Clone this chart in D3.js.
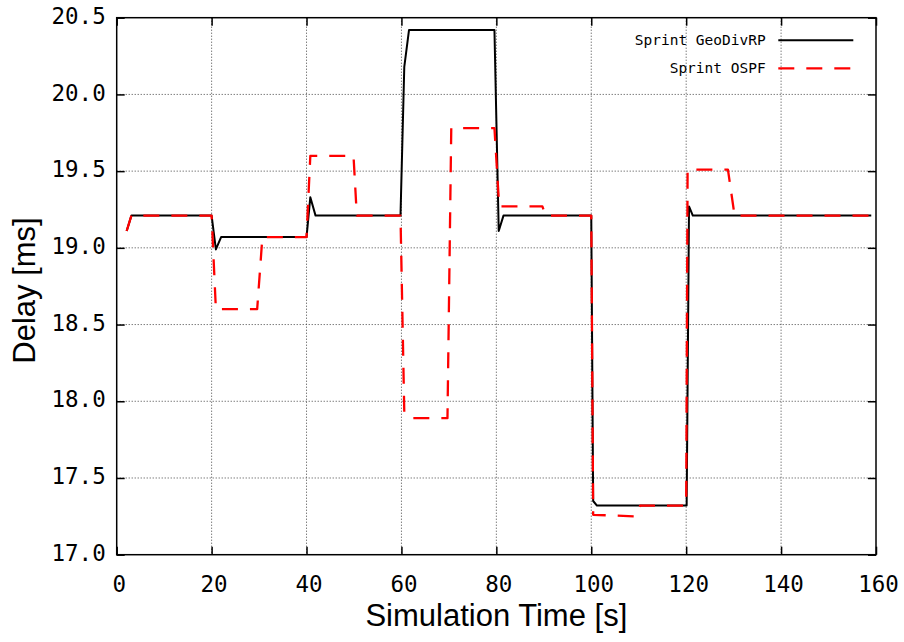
<!DOCTYPE html>
<html>
<head>
<meta charset="utf-8">
<script src="https://cdn.jsdelivr.net/npm/d3@7/dist/d3.min.js"></script>
<style>
  body { margin: 0; background: #fff; }
  svg { display: block; }
</style>
</head>
<body>
<div id="chart"></div>
<script>
var xTicks = [0, 20, 40, 60, 80, 100, 120, 140, 160];
var yTicks = [17.0, 17.5, 18.0, 18.5, 19.0, 19.5, 20.0, 20.5];

var geoTime  = [2.1, 3.1, 20.0, 20.9, 22.0, 40.0, 40.8, 41.9, 59.8, 60.6, 61.6, 79.6, 80.5, 81.5, 100.0, 100.4, 101.2, 120.1, 120.6, 121.4, 159.0];
var geoDelay = [19.11, 19.21, 19.21, 18.99, 19.07, 19.07, 19.33, 19.21, 19.21, 20.18, 20.42, 20.42, 19.11, 19.21, 19.21, 17.35, 17.32, 17.32, 19.27, 19.21, 19.21];

var ospfTime  = [2.1, 3.1, 20.0, 20.9, 29.6, 30.7, 40.0, 40.8, 49.9, 50.6, 59.8, 60.6, 61.8, 69.7, 70.5, 79.6, 80.6, 89.7, 90.4, 100.0, 100.4, 109.2, 110.3, 120.0, 120.3, 128.8, 130.2, 159.0];
var ospfDelay = [19.11, 19.21, 19.21, 18.60, 18.60, 19.07, 19.07, 19.60, 19.60, 19.21, 19.21, 17.93, 17.89, 17.89, 19.78, 19.78, 19.27, 19.27, 19.21, 19.21, 17.26, 17.25, 17.32, 17.32, 19.51, 19.51, 19.21, 19.21];

var seriesNames = ['Sprint GeoDivRP', 'Sprint OSPF'];

var width = 904, height = 642;
var plotLeft = 116.7, plotTop = 17.7, plotRight = 876, plotBottom = 554.7;

var svg = d3.select('#chart').append('svg')
    .attr('width', width)
    .attr('height', height);

var x = d3.scaleLinear().domain([0, 160]).range([plotLeft, plotRight]);
var y = d3.scaleLinear().domain([17, 20.5]).range([plotBottom, plotTop]);

// grid
var grid = svg.append('g');
grid.selectAll('line.gx')
    .data(xTicks.slice(1, -1))
    .enter().append('line')
    .attr('x1', function(d) { return x(d); })
    .attr('x2', function(d) { return x(d); })
    .attr('y1', plotTop).attr('y2', plotBottom)
    .attr('stroke', '#444').attr('stroke-width', 1)
    .attr('stroke-dasharray', '1,2');
grid.selectAll('line.gy')
    .data(yTicks.slice(1, -1))
    .enter().append('line')
    .attr('y1', function(d) { return y(d); })
    .attr('y2', function(d) { return y(d); })
    .attr('x1', plotLeft).attr('x2', plotRight)
    .attr('stroke', '#444').attr('stroke-width', 1)
    .attr('stroke-dasharray', '1,2');

// axes with inward ticks, mirrored
var tickLen = 8;
var fmtY = d3.format('.1f');

var axB = svg.append('g')
    .attr('transform', 'translate(0,' + plotBottom + ')')
    .call(d3.axisBottom(x).tickValues(xTicks).tickSizeInner(-tickLen).tickSizeOuter(0).tickPadding(21));
var axT = svg.append('g')
    .attr('transform', 'translate(0,' + plotTop + ')')
    .call(d3.axisTop(x).tickValues(xTicks).tickSizeInner(-tickLen).tickSizeOuter(0).tickFormat(''));
var axL = svg.append('g')
    .attr('transform', 'translate(' + plotLeft + ',0)')
    .call(d3.axisLeft(y).tickValues(yTicks).tickFormat(fmtY).tickSizeInner(-tickLen).tickSizeOuter(0).tickPadding(11));
var axR = svg.append('g')
    .attr('transform', 'translate(' + plotRight + ',0)')
    .call(d3.axisRight(y).tickValues(yTicks).tickSizeInner(-tickLen).tickSizeOuter(0).tickFormat(''));

[axB, axT, axL, axR].forEach(function(a) {
    a.select('.domain').remove();
    a.selectAll('line').attr('stroke', '#000').attr('stroke-width', 1.5);
    a.selectAll('text')
        .attr('font-family', '"DejaVu Sans Mono", monospace')
        .attr('font-size', 22.5)
        .attr('fill', '#000');
});
axB.selectAll('text').attr('dx', 2);
axL.selectAll('text').attr('dy', '0.25em');

// frame
svg.append('rect')
    .attr('x', plotLeft).attr('y', plotTop)
    .attr('width', plotRight - plotLeft).attr('height', plotBottom - plotTop)
    .attr('fill', 'none').attr('stroke', '#000').attr('stroke-width', 1.5);

// lines
var line = d3.line()
    .x(function(d) { return x(d[0]); })
    .y(function(d) { return y(d[1]); });

var geo = d3.zip(geoTime, geoDelay);
var ospf = d3.zip(ospfTime, ospfDelay);

svg.append('path')
    .datum(geo)
    .attr('d', line)
    .attr('fill', 'none')
    .attr('stroke', '#000')
    .attr('stroke-width', 2)
    .attr('stroke-linejoin', 'round');

svg.append('path')
    .datum(ospf)
    .attr('d', line)
    .attr('fill', 'none')
    .attr('stroke', '#ff0000')
    .attr('stroke-width', 2.3)
    .attr('stroke-dasharray', '16,12')
    .attr('stroke-linejoin', 'round');

// legend
var legend = svg.append('g');
var styles = [
    { color: '#000', dash: null, width: 2 },
    { color: '#ff0000', dash: '16,12', width: 2.3 }
];
seriesNames.forEach(function(name, i) {
    var ly = 40.3 + i * 28;
    legend.append('text')
        .attr('x', 765.7).attr('y', ly + 5)
        .attr('text-anchor', 'end')
        .attr('font-family', '"DejaVu Sans Mono", monospace')
        .attr('font-size', 14.5)
        .attr('fill', '#000')
        .text(name);
    legend.append('line')
        .attr('x1', 778.3).attr('x2', 853.3)
        .attr('y1', ly).attr('y2', ly)
        .attr('stroke', styles[i].color)
        .attr('stroke-width', styles[i].width)
        .attr('stroke-dasharray', styles[i].dash);
});

// axis titles
svg.append('text')
    .attr('x', (plotLeft + plotRight) / 2).attr('y', 626)
    .attr('text-anchor', 'middle')
    .attr('font-family', '"Liberation Sans", Arial, sans-serif')
    .attr('font-size', 31)
    .attr('fill', '#000')
    .text('Simulation Time [s]');

svg.append('text')
    .attr('transform', 'translate(35,' + 290.5 + ') rotate(-90)')
    .attr('text-anchor', 'middle')
    .attr('font-family', '"Liberation Sans", Arial, sans-serif')
    .attr('font-size', 31)
    .attr('fill', '#000')
    .text('Delay [ms]');
</script>
</body>
</html>
